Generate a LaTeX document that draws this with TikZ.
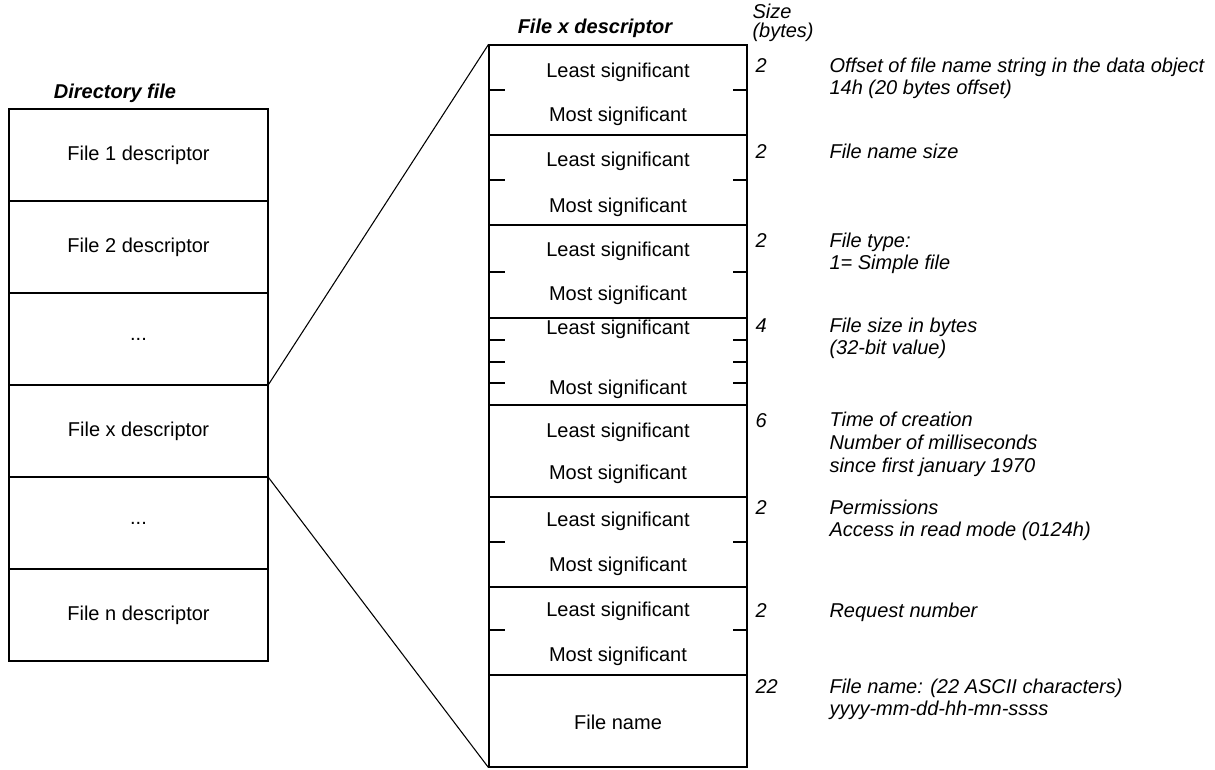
\documentclass[tikz,border=0pt]{standalone}
\usepackage{fontspec}
\setmainfont{Liberation Sans}
\begin{document}
\begin{tikzpicture}[x=0.75pt,y=-0.75pt,line width=0.8pt,
  font=\fontsize{15}{17}\selectfont,
  dirbox/.style={draw,minimum width=194.25pt,minimum height=69pt,inner sep=0pt},
  fieldbox/.style={draw,minimum width=193.5pt,inner sep=0pt},
  heading/.style={font=\fontsize{15}{17}\selectfont\bfseries\itshape},
  sizeval/.style={anchor=base west,inner sep=0pt,font=\fontsize{15}{17}\selectfont\itshape},
  fielddesc/.style={anchor=base west,inner sep=0pt,align=left,font=\fontsize{15}{17}\selectfont\itshape}]
\useasboundingbox (0,0) rectangle (1215,769);
\def\dd{...}
\node[heading] (dirtitle) at (115,93) {Directory file};
\foreach \i/\t in {1/File 1 descriptor,2/File 2 descriptor,3/\dd,4/File x descriptor,5/\dd,6/File n descriptor}
  \node[dirbox] (dir\i) at (138.5,{63+92*\i}) {\t};
\node[heading] (desctitle) at (595,28) {File x descriptor};
\foreach \i/\a/\b in {1/45/135,2/135/225,3/225/318,4/318/405,5/405/497,6/497/587,7/587/675,8/675/767}
  \node[fieldbox,minimum height={(\b-\a)*0.75pt}] (f\i) at (618,{(\a+\b)/2}) {};
\foreach \i/\ly/\my in {1/72/116,2/161/207,3/251/295,4/329/389,5/432/474,6/521/566,7/611/656}{
  \node (lsb\i) at (618,\ly) {Least significant};
  \node (msb\i) at (618,\my) {Most significant};
}
\node (fname) at (618,722) {File name};
\foreach \y in {90,180,272,340,362,383,542,630}
  \draw (489,\y) -- ++(16,0) (747,\y) -- ++(-14,0);
\draw (dir4.north east) -- (f1.north west);
\draw (dir4.south east) -- (f8.south west);
\node[sizeval,align=left,font=\fontsize{15}{14.25}\selectfont\itshape] (sizehead) at (752,37) {Size\\(bytes)};
\foreach \i/\y/\n in {1/72/2,2/158/2,3/247/2,4/332/4,5/427/6,6/514/2,7/617/2,8/693/22}
  \node[sizeval] (size\i) at (755,\y) {\n};
\node[fielddesc] (desc1) at (829,94.7) {Offset of file name string in the data object\\14h (20 bytes offset)};
\node[fielddesc] (desc2) at (829,158) {File name size};
\node[fielddesc] (desc3) at (829,269.7) {File type:\\1= Simple file};
\node[fielddesc] (desc4) at (829,354.7) {File size in bytes\\(32-bit value)};
\node[fielddesc] (desc5) at (829,472.3) {Time of creation\\Number of milliseconds\\since first january 1970};
\node[fielddesc] (desc6) at (829,536.7) {Permissions\\Access in read mode (0124h)};
\node[fielddesc] (desc7) at (829,617) {Request number};
\node[fielddesc] (desc8) at (829,715.7) {File name: (22 ASCII characters)\\yyyy-mm-dd-hh-mn-ssss};
\end{tikzpicture}
\end{document}
